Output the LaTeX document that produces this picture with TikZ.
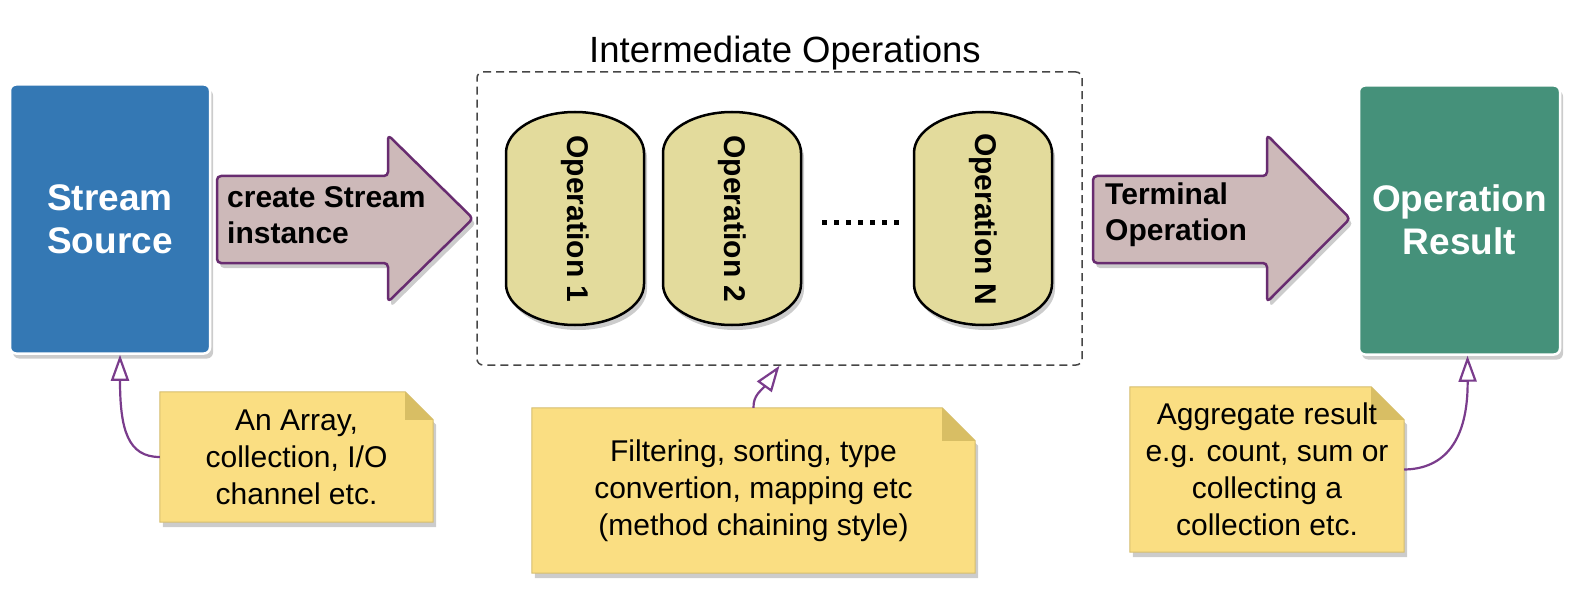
\documentclass[tikz,border=0pt]{standalone}
\usepackage{fontspec}
\setmainfont{Liberation Sans}
\usetikzlibrary{arrows.meta,shadows,backgrounds}
\definecolor{srcblue}{RGB}{52,120,180}
\definecolor{resgreen}{RGB}{69,145,122}
\definecolor{arrfill}{RGB}{205,185,185}
\definecolor{arrdraw}{RGB}{104,44,112}
\definecolor{pillfill}{RGB}{227,219,156}
\definecolor{notefill}{RGB}{250,222,130}
\definecolor{notedraw}{RGB}{214,190,110}
\definecolor{notefold}{RGB}{216,190,100}
\definecolor{connpurple}{RGB}{122,60,140}
\definecolor{dashgray}{RGB}{70,70,70}
\tikzset{
  softshadow/.style={drop shadow={shadow xshift=3pt,shadow yshift=-5pt,opacity=0.2,fill=black}},
  bigbox/.style={draw=white, line width=2.5pt, rounded corners=6pt, minimum width=200pt,
    minimum height=269pt, text=white, align=center, inner sep=0pt,
    font=\fontsize{37}{43}\selectfont\bfseries, softshadow},
  blockarrow/.style={draw=arrdraw, fill=arrfill, line width=2.5pt, rounded corners=4pt,
    line join=round, softshadow},
  arrowtext/.style={anchor=west, align=left, inner sep=0pt, font=\fontsize{30}{36}\selectfont\bfseries},
  pillshape/.style={draw=black, fill=pillfill, line width=2.5pt, softshadow},
  optext/.style={rotate=-90, inner sep=0pt, font=\fontsize{30}{36}\selectfont\bfseries},
  ibox/.style={draw=dashgray, line width=1.5pt, dash pattern=on 8pt off 5pt, rounded corners=6pt},
  notebox/.style={align=center, inner sep=0pt, font=\fontsize{30}{37}\selectfont},
  conn/.style={draw=connpurple, line width=2.2pt, -{Triangle[length=26pt,width=18pt,fill=white]}},
  dotline/.style={line width=5pt, dash pattern=on 5pt off 7pt},
  oppill/.pic={\path[pillshape] (-69,65.5) -- (-69,-65.5)
      arc[start angle=180,end angle=360,x radius=69,y radius=41] -- (69,65.5)
      arc[start angle=0,end angle=180,x radius=69,y radius=41] -- cycle;}
}
\newcommand\notebg[2]{%
  \begin{scope}[on background layer]
    \path[fill=notefill, draw=notedraw, line width=1pt, softshadow]
      (#1.north west) -- ([xshift=-#2pt]#1.north east) -- ([yshift=-#2pt]#1.north east)
      -- (#1.south east) -- (#1.south west) -- cycle;
    \path[fill=notefold]
      ([xshift=-#2pt]#1.north east) -- ([xshift=-#2pt,yshift=-#2pt]#1.north east)
      -- ([yshift=-#2pt]#1.north east) -- cycle;
  \end{scope}}
\begin{document}
\begin{tikzpicture}[x=1pt,y=1pt]
\useasboundingbox (0,0) rectangle (1584,-596);
\begin{scope}[on background layer]
\fill[white] (0,0) rectangle (1584,-596);
\end{scope}

% stream source and result
\node[bigbox, fill=srcblue] (src) at (110,-219) {Stream\\Source};
\node[bigbox, fill=resgreen, minimum width=201pt] (res) at (1459.5,-220) {Operation\\Result};

% intermediate box
\node[ibox, minimum width=605pt, minimum height=293pt] (ibox) at (779.5,-218.5) {};
\node[anchor=base, inner sep=0pt, font=\fontsize{36.5}{40}\selectfont] (title) at (785,-63) {Intermediate Operations};

% pills
\pic at (575,-218.5) {oppill};
\pic at (732,-218.5) {oppill};
\pic at (983,-218.5) {oppill};
\node[optext] (op1) at (575,-219) {Operation 1};
\node[optext] (op2) at (732,-219) {Operation 2};
\node[optext] (opn) at (983,-219) {Operation N};
\draw[dotline] (822,-222) -- (902,-222);

% block arrows
\path[blockarrow] (217,-176) -- (388,-176) -- (388,-135) -- (473,-218.5) -- (388,-302) -- (388,-263) -- (217,-263) -- cycle;
\node[arrowtext] (a1) at (227,-215) {create Stream\\instance};
\path[blockarrow] (1093,-176) -- (1267,-176) -- (1267,-135) -- (1350,-218.5) -- (1267,-302) -- (1267,-263) -- (1093,-263) -- cycle;
\node[arrowtext] (a2) at (1105,-215) {Terminal\\Operation};

% notes
\node[notebox, minimum width=273pt, minimum height=130pt] (n1) at (296.5,-457) {An Array,\\collection, I/O\\channel etc.};
\notebg{n1}{28}
\node[notebox, minimum width=443pt, minimum height=165pt] (n2) at (753.5,-490.5) {Filtering, sorting, type\\convertion, mapping etc\\(method chaining style)};
\notebg{n2}{33}
\node[notebox, minimum width=274pt, minimum height=165pt] (n3) at (1267,-469.5) {Aggregate result\\e.g. count, sum or\\collecting a\\collection etc.};
\notebg{n3}{33}

% connectors
\draw[conn] (n1.west) .. controls (128,-457) and (120,-430) .. ([xshift=10pt]src.south);
\draw[conn] (n2.north) .. controls (753,-395) and (762,-390) .. (ibox.south);
\draw[conn] (n3.east) .. controls (1445,-469) and (1468,-440) .. ([xshift=8pt]res.south);
\end{tikzpicture}
\end{document}
